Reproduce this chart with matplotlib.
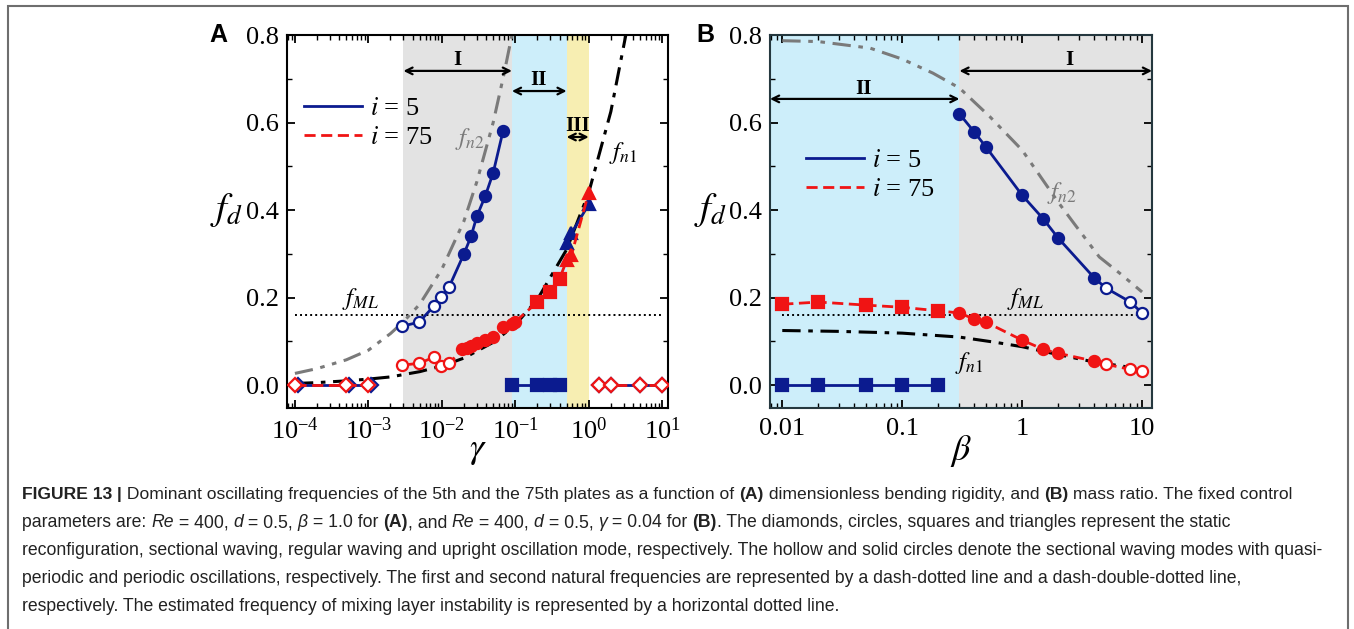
import matplotlib
matplotlib.use("Agg")
import matplotlib.pyplot as plt
from matplotlib.lines import Line2D
from matplotlib.patches import Rectangle
from matplotlib import font_manager
import matplotlib.ticker as mticker

plt.rcParams['font.family'] = ['Liberation Serif', 'DejaVu Serif']
plt.rcParams['mathtext.fontset'] = 'stix'

W, H = 1354, 629

# colours
navy = '#0b1b8f'
red = '#f01414'
grey_band = '#e3e3e3'
blue_band = '#cdeefa'
yellow_band = '#f7eeb2'
fn2_col = '#7a7a7a'

# ---------------- panel A data (x = gamma) ----------------
# i = 5
a5_diam_x = [1.1e-4, 5.5e-4, 1.1e-3]
a5_diam_y = [0.0, 0.0, 0.0]
a5_circ_x = [0.0029, 0.0049, 0.0078, 0.0098, 0.0126, 0.020, 0.025, 0.030, 0.039, 0.050, 0.068]
a5_circ_y = [0.135, 0.144, 0.181, 0.201, 0.225, 0.300, 0.340, 0.386, 0.432, 0.485, 0.580]
a5_circ_solid = [0, 0, 0, 0, 0, 1, 1, 1, 1, 1, 1]
a5_sq_x = [0.09, 0.2, 0.3, 0.4]
a5_sq_y = [0.0, 0.0, 0.0, 0.0]
a5_tri_x = [0.5, 0.58, 1.0]
a5_tri_y = [0.325, 0.347, 0.413]
a5_diam2_x = [1.4, 2.0, 5.0, 10.0]
a5_diam2_y = [0.0, 0.0, 0.0, 0.0]

# i = 75
a75_diam_x = [1e-4, 5e-4, 1e-3]
a75_diam_y = [0.0, 0.0, 0.0]
a75_circ_x = [0.0029, 0.0049, 0.0078, 0.0098, 0.0126, 0.019, 0.022, 0.025, 0.030, 0.039, 0.050, 0.068, 0.09, 0.1]
a75_circ_y = [0.046, 0.050, 0.064, 0.043, 0.050, 0.082, 0.086, 0.090, 0.096, 0.103, 0.110, 0.133, 0.141, 0.145]
a75_circ_solid = [0, 0, 0, 0, 0, 1, 1, 1, 1, 1, 1, 1, 1, 1]
a75_sq_x = [0.2, 0.3, 0.4]
a75_sq_y = [0.190, 0.213, 0.243]
a75_tri_x = [0.5, 0.58, 1.0]
a75_tri_y = [0.285, 0.297, 0.440]
a75_diam2_x = [1.4, 2.0, 5.0, 10.0]
a75_diam2_y = [0.0, 0.0, 0.0, 0.0]

# natural frequencies and mixing layer frequency, panel A
a_fn1_x = [1e-4, 2e-4, 5e-4, 1e-3, 2e-3, 5e-3, 0.01, 0.02, 0.05, 0.1, 0.2, 0.5, 1.0, 2.0, 3.2, 4.0]
a_fn1_y = [0.004, 0.006, 0.010, 0.014, 0.019, 0.031, 0.044, 0.062, 0.098, 0.138, 0.196, 0.31, 0.44, 0.625, 0.80, 0.89]
a_fn2_x = [1e-4, 2e-4, 5e-4, 1e-3, 2e-3, 3e-3, 5e-3, 0.01, 0.02, 0.03, 0.05, 0.07, 0.09, 0.1]
a_fn2_y = [0.027, 0.038, 0.058, 0.080, 0.118, 0.145, 0.185, 0.265, 0.375, 0.465, 0.60, 0.71, 0.80, 0.85]
a_fml_x = [1e-4, 10.0]
a_fml_y = [0.16, 0.16]
a_xticks = [1e-4, 1e-3, 1e-2, 1e-1, 1e0, 1e1]

# ---------------- panel B data (x = beta) ----------------
b5_sq_x = [0.01, 0.02, 0.05, 0.1, 0.2]
b5_sq_y = [0.0, 0.0, 0.0, 0.0, 0.0]
b5_circ_x = [0.3, 0.4, 0.5, 1.0, 1.5, 2.0, 4.0, 5.0, 8.0, 10.0]
b5_circ_y = [0.620, 0.578, 0.544, 0.434, 0.380, 0.336, 0.245, 0.222, 0.190, 0.165]
b5_circ_solid = [1, 1, 1, 1, 1, 1, 1, 0, 0, 0]

b75_sq_x = [0.01, 0.02, 0.05, 0.1, 0.2]
b75_sq_y = [0.185, 0.190, 0.183, 0.178, 0.170]
b75_circ_x = [0.3, 0.4, 0.5, 1.0, 1.5, 2.0, 4.0, 5.0, 8.0, 10.0]
b75_circ_y = [0.165, 0.151, 0.144, 0.103, 0.082, 0.073, 0.055, 0.048, 0.036, 0.033]
b75_circ_solid = [1, 1, 1, 1, 1, 1, 1, 0, 0, 0]

b_fn1_x = [0.01, 0.03, 0.1, 0.3, 0.6, 1.0, 2.0, 4.0, 7.5]
b_fn1_y = [0.125, 0.123, 0.119, 0.110, 0.098, 0.088, 0.070, 0.053, 0.042]
b_fn2_x = [0.01, 0.02, 0.054, 0.1, 0.18, 0.3, 0.54, 1.0, 2.0, 2.7, 4.4, 6.5, 10.0]
b_fn2_y = [0.787, 0.785, 0.770, 0.745, 0.713, 0.679, 0.613, 0.537, 0.418, 0.370, 0.293, 0.256, 0.213]
b_fml_x = [0.01, 10.0]
b_fml_y = [0.16, 0.16]

b_xticks = [0.01, 0.1, 1, 10]
b_xticklabels = ['0.01', '0.1', '1', '10']
yticks = [0.0, 0.2, 0.4, 0.6, 0.8]

fig = plt.figure(figsize=(W / 100, H / 100), dpi=100)
axA = fig.add_axes([287 / W, 1 - 408 / H, 381 / W, 373 / H])
axB = fig.add_axes([770 / W, 1 - 408 / H, 382 / W, 373 / H])

ms = 8


def markers(ax, x, y, marker, color, solid, size=ms, z=4):
    for xi, yi, s in zip(x, y, solid):
        ax.plot([xi], [yi], marker=marker, color=color, mfc=color if s else 'white',
                mec=color, mew=1.6, ms=size, ls='none', zorder=z)


def series(ax, x, y, marker, color, ls, solid=None, size=ms, z=4):
    if solid is None:
        solid = [1] * len(x)
    if ls == '-':
        ax.plot(x, y, color=color, lw=2, ls='-', zorder=z - 1)
    else:
        ax.plot(x, y, color=color, lw=2, dashes=(4, 2), zorder=z - 1)
    if marker is not None:
        markers(ax, x, y, marker, color, solid, size, z)


def style_axis(ax):
    ax.set_xscale('log')
    ax.set_ylim(-0.052, 0.8)
    ax.set_yticks(yticks)
    ax.set_yticklabels(['%.1f' % v for v in yticks])
    ax.yaxis.set_minor_locator(mticker.MultipleLocator(0.1))
    ax.xaxis.set_minor_locator(mticker.LogLocator(base=10, subs=range(2, 10), numticks=100))
    ax.tick_params(which='both', direction='in', top=True, right=True, labelsize=19)
    ax.tick_params(which='major', length=6, width=1.3)
    ax.tick_params(which='minor', length=3.5, width=1.0)
    ax.tick_params(axis='x', pad=7)
    ax.tick_params(axis='y', pad=6)
    for s in ax.spines.values():
        s.set_linewidth(1.5)


# ---------------- panel A ----------------
ax = axA
style_axis(ax)
ax.set_xlim(7.8e-5, 12)
ax.set_xticks(a_xticks)
ax.axvspan(0.003, 0.09, color=grey_band, lw=0, zorder=0)
ax.axvspan(0.09, 0.5, color=blue_band, lw=0, zorder=0)
ax.axvspan(0.5, 1.0, color=yellow_band, lw=0, zorder=0)

ax.plot(a_fml_x, a_fml_y, color='black', lw=1.4, ls=(0, (1, 1.6)), zorder=2)
ax.plot(a_fn2_x, a_fn2_y, color=fn2_col, lw=2.2, dashes=(6, 2.5, 1.5, 2.5, 1.5, 2.5), zorder=2)
ax.plot(a_fn1_x, a_fn1_y, color='black', lw=2.2, dashes=(6, 2.5, 1.5, 2.5), zorder=2)

series(ax, a5_diam_x, a5_diam_y, None, navy, '-')
series(ax, a5_circ_x, a5_circ_y, 'o', navy, '-', a5_circ_solid)
series(ax, a5_sq_x, a5_sq_y, 's', navy, '-')
series(ax, a5_tri_x, a5_tri_y, '^', navy, '-')
series(ax, a5_diam2_x, a5_diam2_y, 'D', navy, '-', [0] * 4, size=7.5)
markers(ax, a5_diam_x, a5_diam_y, 'D', navy, [0] * 3, size=7.5, z=3)

series(ax, a75_diam_x, a75_diam_y, 'D', red, '--', [0] * 3, size=7.5, z=6)
series(ax, a75_circ_x + a75_sq_x + a75_tri_x, a75_circ_y + a75_sq_y + a75_tri_y, None, red, '--', z=6)
markers(ax, a75_circ_x, a75_circ_y, 'o', red, a75_circ_solid, z=6)
markers(ax, a75_sq_x, a75_sq_y, 's', red, [1] * 3, z=6)
markers(ax, a75_tri_x, a75_tri_y, '^', red, [1] * 3, z=6)
series(ax, a75_diam2_x, a75_diam2_y, 'D', red, '--', [0] * 4, size=7.5, z=6)

arrow = dict(arrowstyle='<->', color='black', lw=1.6, shrinkA=0, shrinkB=0, mutation_scale=12)
ax.annotate('', xy=(0.003, 0.718), xytext=(0.09, 0.718), arrowprops=arrow, zorder=7)
ax.annotate('', xy=(0.09, 0.672), xytext=(0.5, 0.672), arrowprops=arrow, zorder=7)
ax.annotate('', xy=(0.5, 0.567), xytext=(1.0, 0.567), arrowprops=arrow, zorder=7)
ax.text(0.0165, 0.742, 'I', ha='center', va='center', fontsize=15, fontweight='bold')
ax.text(0.21, 0.697, 'II', ha='center', va='center', fontsize=15, fontweight='bold')
ax.text(0.70, 0.592, 'III', ha='center', va='center', fontsize=15, fontweight='bold')

ax.text(0.024, 0.563, r'$f_{n2}$', color=fn2_col, fontsize=18, ha='center', va='center')
ax.text(2.9, 0.53, r'$f_{n1}$', color='black', fontsize=18, ha='center', va='center')
ax.text(7.7e-4, 0.196, r'$f_{ML}$', color='black', fontsize=18, ha='center', va='center')

hA = [Line2D([], [], color=navy, lw=2), Line2D([], [], color=red, lw=2, dashes=(4, 2))]
ax.legend(hA, [r'$i$ = 5', r'$i$ = 75'], loc='upper left', bbox_to_anchor=(0.045, 0.835),
          frameon=False, fontsize=19, handlelength=2.2, handletextpad=0.3,
          labelspacing=0.2, borderpad=0, borderaxespad=0)

ax.text(-0.16, 0.53, r'$f_d$', transform=ax.transAxes, fontsize=28, ha='center', va='center')
ax.text(0.5, -0.115, r'$\gamma$', transform=ax.transAxes, fontsize=26, ha='center', va='center')
fig.text(218 / W, 1 - 35 / H, 'A', family='Liberation Sans', fontweight='bold', fontsize=18,
         ha='center', va='center')

# ---------------- panel B ----------------
ax = axB
style_axis(ax)
ax.set_xlim(0.0079, 12.1)
ax.set_xticks(b_xticks)
ax.set_xticklabels(b_xticklabels)
ax.axvspan(0.0079, 0.3, color=blue_band, lw=0, zorder=0)
ax.axvspan(0.3, 12.1, color=grey_band, lw=0, zorder=0)
for s in ax.spines.values():
    s.set_color('#25383f')

ax.plot(b_fml_x, b_fml_y, color='black', lw=1.4, ls=(0, (1, 1.6)), zorder=2)
ax.plot(b_fn2_x, b_fn2_y, color=fn2_col, lw=2.2, dashes=(6, 2.5, 1.5, 2.5, 1.5, 2.5), zorder=2)
ax.plot(b_fn1_x, b_fn1_y, color='black', lw=2.2, dashes=(6, 2.5, 1.5, 2.5), zorder=2)

series(ax, b5_sq_x, b5_sq_y, 's', navy, '-')
series(ax, b5_circ_x, b5_circ_y, 'o', navy, '-', b5_circ_solid)
series(ax, b75_sq_x + b75_circ_x, b75_sq_y + b75_circ_y, None, red, '--', z=6)
markers(ax, b75_sq_x, b75_sq_y, 's', red, [1] * 5, z=6)
markers(ax, b75_circ_x, b75_circ_y, 'o', red, b75_circ_solid, z=6)

ax.annotate('', xy=(0.0079, 0.654), xytext=(0.3, 0.654), arrowprops=arrow, zorder=7)
ax.annotate('', xy=(0.3, 0.718), xytext=(12.1, 0.718), arrowprops=arrow, zorder=7)
ax.text(0.048, 0.677, 'II', ha='center', va='center', fontsize=15, fontweight='bold')
ax.text(2.5, 0.742, 'I', ha='center', va='center', fontsize=15, fontweight='bold')

ax.text(2.15, 0.439, r'$f_{n2}$', color=fn2_col, fontsize=18, ha='center', va='center')
ax.text(1.06, 0.196, r'$f_{ML}$', color='black', fontsize=18, ha='center', va='center')
ax.text(0.36, 0.05, r'$f_{n1}$', color='black', fontsize=18, ha='center', va='center')

hB = [Line2D([], [], color=navy, lw=2), Line2D([], [], color=red, lw=2, dashes=(4, 2))]
ax.legend(hB, [r'$i$ = 5', r'$i$ = 75'], loc='upper left', bbox_to_anchor=(0.095, 0.695),
          frameon=False, fontsize=19, handlelength=2.2, handletextpad=0.3,
          labelspacing=0.2, borderpad=0, borderaxespad=0)

ax.text(-0.155, 0.53, r'$f_d$', transform=ax.transAxes, fontsize=28, ha='center', va='center')
ax.text(0.5, -0.115, r'$\beta$', transform=ax.transAxes, fontsize=26, ha='center', va='center')
fig.text(705 / W, 1 - 35 / H, 'B', family='Liberation Sans', fontweight='bold', fontsize=18,
         ha='center', va='center')

# ---------------- frame and caption ----------------
fig.add_artist(Rectangle((8 / W, -0.05), 1340 / W, 1.05 - 6 / H, transform=fig.transFigure,
                         fill=False, edgecolor='#6e6e6e', lw=1.5))

try:
    font_manager.findfont('Liberation Sans Narrow', fallback_to_default=False)
    narrow = ['Liberation Sans Narrow', 'DejaVu Sans']
    size1 = 15.0
except Exception:
    narrow = ['Liberation Sans', 'DejaVu Sans']
    size1 = 12.6
sans = ['Liberation Sans', 'DejaVu Sans']

caption = [
    (narrow, size1, [('FIGURE 13', 'bold', 'normal'), (' |', 'bold', 'normal'),
                     (' Dominant oscillating frequencies of the 5th and the 75th plates as a function of ', 'normal', 'normal'),
                     ('(A)', 'bold', 'normal'), (' dimensionless bending rigidity, and ', 'normal', 'normal'),
                     ('(B)', 'bold', 'normal'), (' mass ratio. The fixed control', 'normal', 'normal')]),
    (sans, 12.7, [('parameters are: ', 'normal', 'normal'), ('Re', 'normal', 'italic'), (' = 400, ', 'normal', 'normal'),
                  ('d', 'normal', 'italic'), (' = 0.5, ', 'normal', 'normal'), ('\u03b2', 'normal', 'italic'),
                  (' = 1.0 for ', 'normal', 'normal'), ('(A)', 'bold', 'normal'), (', and ', 'normal', 'normal'),
                  ('Re', 'normal', 'italic'), (' = 400, ', 'normal', 'normal'), ('d', 'normal', 'italic'),
                  (' = 0.5, ', 'normal', 'normal'), ('\u03b3', 'normal', 'italic'), (' = 0.04 for ', 'normal', 'normal'),
                  ('(B)', 'bold', 'normal'),
                  ('. The diamonds, circles, squares and triangles represent the static', 'normal', 'normal')]),
    (sans, 12.7, [('reconfiguration, sectional waving, regular waving and upright oscillation mode, respectively. '
                   'The hollow and solid circles denote the sectional waving modes with quasi-', 'normal', 'normal')]),
    (sans, 12.7, [('periodic and periodic oscillations, respectively. The first and second natural frequencies '
                   'are represented by a dash-dotted line and a dash-double-dotted line,', 'normal', 'normal')]),
    (sans, 12.7, [('respectively. The estimated frequency of mixing layer instability is represented by a '
                   'horizontal dotted line.', 'normal', 'normal')]),
]
baselines = [499, 527, 555, 583, 611]

renderer = fig.canvas.get_renderer()


def text_width(s, fam, size, weight, style):
    t = fig.text(0, 0, 'x' + s + 'x', family=fam, fontsize=size, fontweight=weight, style=style)
    t2 = fig.text(0, 0, 'xx', family=fam, fontsize=size, fontweight=weight, style=style)
    w = t.get_window_extent(renderer).width - t2.get_window_extent(renderer).width
    t.remove()
    t2.remove()
    return w


for (fam, size, segs), yb in zip(caption, baselines):
    x = 22.0
    for s, weight, style in segs:
        fig.text(x / W, 1 - yb / H, s, family=fam, fontsize=size, fontweight=weight, style=style,
                 ha='left', va='baseline', color='#222222')
        x += text_width(s, fam, size, weight, style)

fig.savefig('out.png', dpi=100)
